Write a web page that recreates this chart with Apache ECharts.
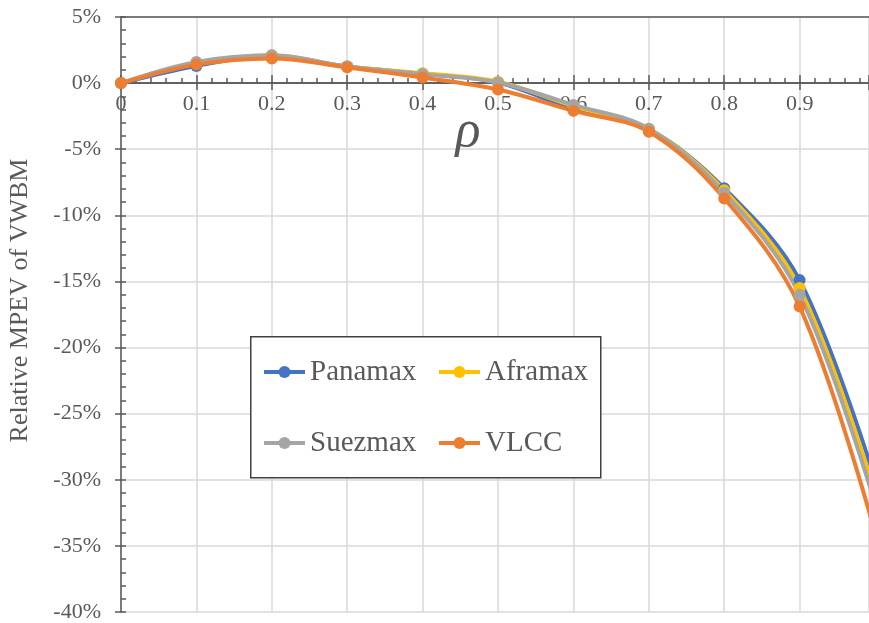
<!DOCTYPE html>
<html>
<head>
<meta charset="utf-8">
<script src="https://cdn.jsdelivr.net/npm/echarts@6/dist/echarts.min.js"></script>
<style>html,body{margin:0;padding:0;background:#fff}#c{width:869px;height:623px}</style>
</head>
<body>
<div id="c"></div>
<script>
var rho = [0, 0.1, 0.2, 0.3, 0.4, 0.5, 0.6, 0.7, 0.8, 0.9, 1.0];
var panamax = [0, 1.3, 2.05, 1.25, 0.7, 0.05, -1.95, -3.5, -7.95, -14.9, -30.0];
var aframax = [0, 1.5, 2.1, 1.25, 0.75, 0.1, -1.75, -3.45, -8.1, -15.5, -31.0];
var suezmax = [0, 1.6, 2.1, 1.25, 0.68, 0.05, -1.65, -3.45, -8.3, -16.0, -31.8];
var vlcc = [0, 1.4, 1.87, 1.19, 0.43, -0.48, -2.1, -3.68, -8.72, -16.9, -34.0];
var seriesNames = ['Panamax', 'Aframax', 'Suezmax', 'VLCC'];
var seriesColors = ['#4472C4', '#FFC000', '#A5A5A5', '#ED7D31'];
var seriesValues = [panamax, aframax, suezmax, vlcc];

var FONT = '"Liberation Serif", "Times New Roman", serif';
var AX = '#595959';
var XMAX = 0.992;

function pairs(vals) { return rho.map(function (r, i) { return [r, vals[i]]; }); }

var series = seriesNames.map(function (n, i) {
  return {
    name: n, type: 'line', xAxisIndex: 0, yAxisIndex: 0,
    data: pairs(seriesValues[i]),
    smooth: 0.35, clip: true,
    symbol: 'circle', symbolSize: 12,
    lineStyle: { width: 4, color: seriesColors[i] },
    itemStyle: { color: seriesColors[i] },
    emphasis: { disabled: true }
  };
});

var legendPos = [[262, 357], [437, 357], [262, 428], [437, 428]];
var legends = seriesNames.map(function (n, i) {
  return {
    data: [n], left: legendPos[i][0], top: legendPos[i][1], padding: 0, z: 10,
    itemWidth: 41, itemHeight: 15,
    lineStyle: { width: 4 },
    textStyle: { fontFamily: FONT, fontSize: 29, color: AX, lineHeight: 30 }
  };
});

var chart = echarts.init(document.getElementById('c'), null, { renderer: 'canvas' });
chart.setOption({
  animation: false,
  color: seriesColors,
  grid: { left: 121, right: 0, top: 17, bottom: 11, containLabel: false, outerBoundsMode: 'none' },
  graphic: [{
    type: 'rect', left: 250, top: 336, z: 3,
    shape: { width: 350, height: 141 },
    style: { fill: '#fff', stroke: '#404040', lineWidth: 1.5 }
  }],
  legend: legends,
  xAxis: [{
    type: 'value', min: 0, max: XMAX, interval: 0.1,
    axisLine: { show: true, onZero: true, onZeroAxisIndex: 0, lineStyle: { color: AX, width: 1.5 } },
    axisTick: { show: true, length: 7, lineStyle: { color: AX, width: 1.5 } },
    axisLabel: { show: false },
    splitLine: { show: true, lineStyle: { color: '#d9d9d9', width: 1.5 } }
  }, {
    type: 'value', position: 'top', min: 0, max: XMAX, interval: 0.1,
    axisLine: { show: true, onZero: true, onZeroAxisIndex: 1, lineStyle: { color: AX, width: 1.5 } },
    axisTick: { show: true, length: 8, lineStyle: { color: AX, width: 1.5 } },
    minorTick: { show: true, splitNumber: 5, length: 5, lineStyle: { color: AX, width: 1.5 } },
    axisLabel: {
      inside: true, margin: 76, fontFamily: FONT, fontSize: 22, color: AX,
      formatter: function (v) { var r = Math.round(v * 10) / 10; return Math.abs(v - r) < 1e-6 ? String(r) : ''; }
    },
    splitLine: { show: false },
    name: 'ρ', nameLocation: 'middle', nameGap: -115, nameMoveOverlap: false,
    nameTextStyle: { fontFamily: FONT, fontStyle: 'italic', fontSize: 52, color: AX, verticalAlign: 'middle', padding: [0, 54, 0, 0] }
  }, {
    type: 'value', position: 'top', min: 0, max: XMAX,
    axisLine: { show: true, onZero: false, lineStyle: { color: AX, width: 1.5 } },
    axisTick: { show: false }, axisLabel: { show: false }, splitLine: { show: false }
  }],
  yAxis: [{
    type: 'value', min: -40, max: 5, interval: 5,
    axisLine: { show: true, onZero: false, lineStyle: { color: AX, width: 1.5 } },
    axisTick: { show: true, length: 6, lineStyle: { color: AX, width: 1.5 } },
    axisLabel: { margin: 20, fontFamily: FONT, fontSize: 22, color: AX, formatter: '{value}%' },
    splitLine: { show: true, lineStyle: { color: '#d9d9d9', width: 1.5 } },
    name: 'Relative MPEV of VWBM', nameLocation: 'middle', nameGap: 88,
    nameTextStyle: { fontFamily: FONT, fontSize: 26, color: AX, padding: [0, 0, 0, 28] }
  }, {
    type: 'value', position: 'left', min: -40, max: 5, interval: 1,
    axisLine: { show: false, onZero: false },
    axisTick: { show: true, inside: true, length: 5, lineStyle: { color: AX, width: 1.5 } },
    axisLabel: { show: false }, splitLine: { show: false }
  }],
  series: series
});
</script>
</body>
</html>
